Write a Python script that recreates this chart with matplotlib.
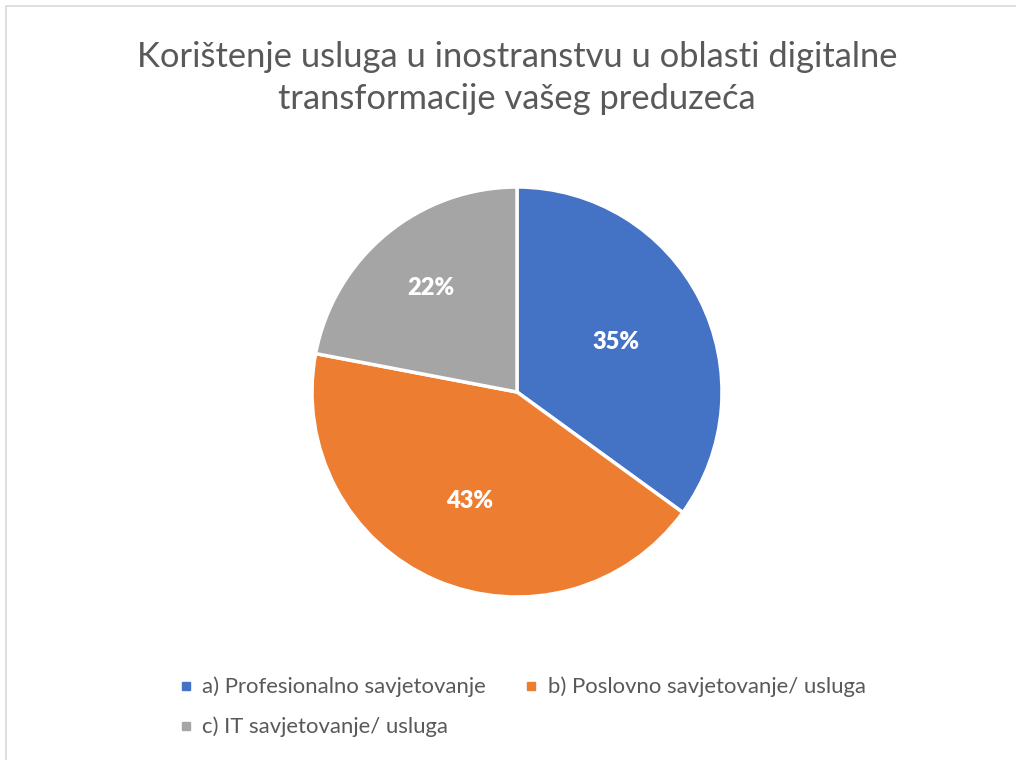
import matplotlib
matplotlib.use("Agg")
import matplotlib.pyplot as plt
import numpy as np
from matplotlib.patches import Rectangle
from matplotlib.lines import Line2D

plt.rcParams['font.family'] = ['Lato', 'DejaVu Sans']

title = "Korištenje usluga u inostranstvu u oblasti digitalne\ntransformacije vašeg preduzeća"
categories = ["a) Profesionalno savjetovanje", "b) Poslovno savjetovanje/ usluga", "c) IT savjetovanje/ usluga"]
shares = [35, 43, 22]
colors = ["#4472C4", "#ED7D31", "#A5A5A5"]
text_grey = "#595959"

W, H = 1016, 760
fig = plt.figure(figsize=(W / 100, H / 100), dpi=100)

# chart border (cut off at right/bottom like the screenshot)
fig.patches.append(Rectangle((6 / W, -0.1), 1.2, 1 - 6 / H + 0.1, transform=fig.transFigure,
                             fill=False, edgecolor="#D9D9D9", linewidth=1.2))

fig.text(517 / W, 1 - 78 / H, title, ha="center", va="center", fontsize=24.8,
         color=text_grey, linespacing=1.38)

cx, cy, r = 517, 392, 205
ax = fig.add_axes([(cx - r) / W, (H - cy - r) / H, 2 * r / W, 2 * r / H])
wedges, texts, autotexts = ax.pie(shares, colors=colors, startangle=90, counterclock=False,
                                  autopct="%d%%", pctdistance=0.58,
                                  wedgeprops=dict(edgecolor="white", linewidth=2.5),
                                  textprops=dict(color="white", fontsize=17, fontweight="heavy"))
# label distance per slice, roughly as excel places them
for w, t, d in zip(wedges, autotexts, [0.54, 0.58, 0.66]):
    mid = np.deg2rad((w.theta1 + w.theta2) / 2)
    t.set_position((d * np.cos(mid), d * np.sin(mid)))
ax.set_xlim(-1, 1)
ax.set_ylim(-1, 1)
ax.set_aspect("equal")

# legend fills column-wise, so reorder to get a, b on the first row and c below
order = [0, 2, 1]
handles = [Line2D([], [], marker="s", linestyle="", markersize=6, color=colors[i]) for i in order]
fig.legend(handles, [categories[i] for i in order], loc="upper left",
           bbox_to_anchor=(159 / W, 1 - 657 / H),
           ncol=2, frameon=False, fontsize=15.9, labelcolor=text_grey,
           handlelength=0.6, handletextpad=0.45, columnspacing=1.75, labelspacing=0.88)

fig.savefig("out.png", dpi=100)
